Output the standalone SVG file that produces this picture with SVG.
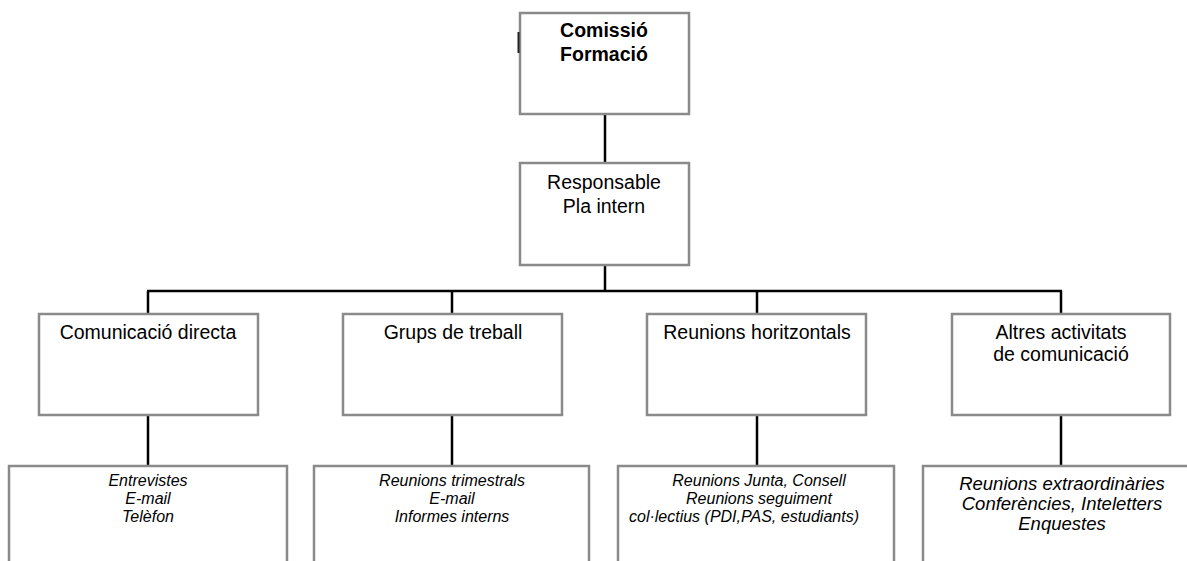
<svg xmlns="http://www.w3.org/2000/svg" width="1187" height="561" viewBox="0 0 1187 561">
<style>
.box{fill:#fff;stroke:#8a8a8a;stroke-width:2.5}
.con{stroke:#000;stroke-width:2.5;fill:none}
.t{font-family:"Liberation Sans",Arial,sans-serif;font-size:19.5px;fill:#000;text-anchor:middle}
.b{font-weight:bold}
.i{font-family:"Liberation Sans",Arial,sans-serif;font-size:16px;font-style:italic;fill:#000;text-anchor:middle}
.i2{font-size:18.5px}
</style>
<rect width="1187" height="561" fill="#fff"/>
<g id="connectors">
<line class="con" x1="605" y1="114" x2="605" y2="163"/>
<line class="con" x1="605" y1="265" x2="605" y2="291"/>
<line class="con" x1="147" y1="291" x2="1062" y2="291"/>
<line class="con" x1="148" y1="291" x2="148" y2="314"/>
<line class="con" x1="452" y1="291" x2="452" y2="314"/>
<line class="con" x1="757" y1="291" x2="757" y2="314"/>
<line class="con" x1="1061" y1="291" x2="1061" y2="314"/>
<line class="con" x1="148" y1="415" x2="148" y2="466"/>
<line class="con" x1="452" y1="415" x2="452" y2="466"/>
<line class="con" x1="757" y1="415" x2="757" y2="466"/>
<line class="con" x1="1061" y1="415" x2="1061" y2="466"/>
</g>
<g id="comissio">
<rect class="box" x="520" y="13" width="169" height="101"/>
<line x1="518.5" y1="32" x2="518.5" y2="53" stroke="#222" stroke-width="2"/>
<text class="t b" x="604" y="37">Comissió</text>
<text class="t b" x="604" y="61">Formació</text>
</g>
<g id="responsable">
<rect class="box" x="520" y="163" width="169" height="102"/>
<text class="t" x="604" y="189">Responsable</text>
<text class="t" x="604" y="213">Pla intern</text>
</g>
<g id="comunicacio-directa">
<rect class="box" x="39" y="314" width="219" height="101"/>
<text class="t" x="148" y="339">Comunicació directa</text>
</g>
<g id="grups-treball">
<rect class="box" x="343" y="314" width="219" height="101"/>
<text class="t" x="453" y="339">Grups de treball</text>
</g>
<g id="reunions-horitzontals">
<rect class="box" x="647" y="314" width="219" height="101"/>
<text class="t" x="757" y="339">Reunions horitzontals</text>
</g>
<g id="altres-activitats">
<rect class="box" x="952" y="314" width="218" height="101"/>
<text class="t" x="1061" y="339">Altres activitats</text>
<text class="t" x="1061" y="361">de comunicació</text>
</g>
<g id="detall-directa">
<rect class="box" x="9" y="466" width="278" height="110"/>
<text class="i" x="148" y="486">Entrevistes</text>
<text class="i" x="148" y="504">E-mail</text>
<text class="i" x="148" y="522">Telèfon</text>
</g>
<g id="detall-grups">
<rect class="box" x="314" y="466" width="275" height="110"/>
<text class="i" x="452" y="486">Reunions trimestrals</text>
<text class="i" x="452" y="504">E-mail</text>
<text class="i" x="452" y="522">Informes interns</text>
</g>
<g id="detall-horitzontals">
<rect class="box" x="618" y="466" width="276" height="110"/>
<text class="i" x="759" y="486">Reunions Junta, Consell</text>
<text class="i" x="759" y="504">Reunions seguiment</text>
<text class="i" x="744" y="522">col·lectius (PDI,PAS, estudiants)</text>
</g>
<g id="detall-altres">
<rect class="box" x="923" y="466" width="290" height="110"/>
<text class="i i2" x="1062" y="490">Reunions extraordinàries</text>
<text class="i i2" x="1062" y="510">Conferències, Inteletters</text>
<text class="i i2" x="1062" y="530">Enquestes</text>
</g>
</svg>
